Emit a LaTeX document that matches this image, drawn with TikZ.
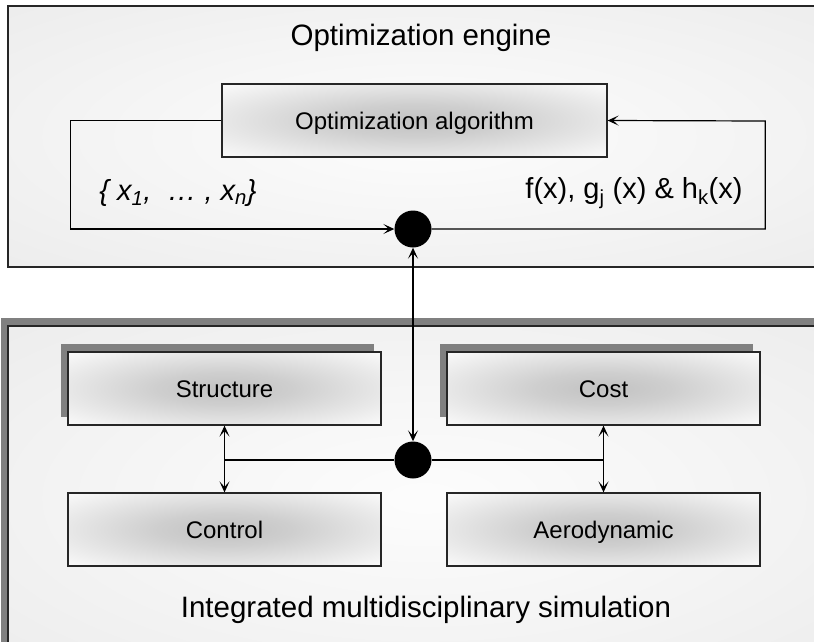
\documentclass[tikz,border=0pt]{standalone}
\usepackage{fontspec}
\setmainfont{Liberation Sans}
\usetikzlibrary{arrows.meta,shadows}

% soft glow used by the two large panels
\pgfdeclareradialshading{panelglow}{\pgfpoint{0bp}{0bp}}{%
  color(0bp)=(black!1); color(18bp)=(black!4); color(40bp)=(black!8); color(50bp)=(black!8)}
% grey core fading to white, used inside the module boxes
\pgfdeclareradialshading{boxglow}{\pgfpoint{0bp}{0bp}}{%
  color(0bp)=(black!24); color(11bp)=(black!19); color(38bp)=(white); color(50bp)=(white)}

\begin{document}
\begin{tikzpicture}[x=1pt,y=-1pt,
  panel/.style={draw=black!85, line width=1.4pt, shading=panelglow},
  modbox/.style={draw=black!85, line width=1.2pt, shading=boxglow,
    minimum width=313pt, minimum height=73pt, inner sep=0pt,
    text height=17pt, text depth=0pt,
    font=\fontsize{24}{28}\selectfont},
  shadowed/.style={drop shadow={shadow xshift=-7.5pt, shadow yshift=8pt,
    opacity=1, fill=black!50}},
  hub/.style={circle, fill=black, minimum size=37pt, inner sep=0pt},
  link/.style={draw=black, line width=1.2pt},
  tip/.tip={Stealth[length=11pt,width=10pt,inset=5.5pt]},
  title/.style={font=\fontsize{29.5}{34}\selectfont, inner sep=0pt},
  formula/.style={font=\fontsize{29}{33}\selectfont, inner sep=0pt}
]
\useasboundingbox (0,0) rectangle (814,641);
\clip (0,0) rectangle (814,641);
\fill[white] (0,0) rectangle (814,641);

% optimisation engine panel
\path[panel] (8,6) rectangle (840,267);
\node[title] (engine) at (421,38) {Optimization engine};
\node[modbox, minimum width=385pt] (alg) at (414.5,120.5) {Optimization algorithm};
\node[hub] (hubtop) at (413,229) {};
\node[formula] (xs) at (178,193)
  {\itshape\{ x\textsubscript{1},\ \ \dots\ , x\textsubscript{n}\}};
\node[formula] (fg) at (634,193)
  {f(x), g\textsubscript{j} (x) \& h\textsubscript{k}(x)};

% feedback loop between algorithm and simulation
\draw[link, -{tip}] (alg.west) -- ++(-151,0) |- (hubtop.west);
\draw[link, -{tip}] (hubtop.east) -| ++(333.5,-108) -- (alg.east);

% integrated simulation panel
\path[panel, drop shadow={shadow xshift=-7pt, shadow yshift=8pt, opacity=1, fill=black!50}]
  (8,326) rectangle (840,670);
\node[title] (imds) at (426,610) {Integrated multidisciplinary simulation};

\node[modbox, shadowed] (struct) at (224.5,388.5) {Structure};
\node[modbox, shadowed] (cost) at (603.5,388.5) {Cost};
\node[modbox] (ctrl) at (224.5,529.5) {Control};
\node[modbox] (aero) at (603.5,529.5) {Aerodynamic};
\node[hub] (hubbot) at (413,460) {};

% data exchange
\draw[link, {tip}-{tip}] (hubtop) -- (hubbot);
\draw[link] (hubbot) -- (hubbot -| struct);
\draw[link] (hubbot) -- (hubbot -| cost);
\draw[link, {tip}-{tip}] (struct) -- (ctrl);
\draw[link, {tip}-{tip}] (cost) -- (aero);
\end{tikzpicture}
\end{document}
